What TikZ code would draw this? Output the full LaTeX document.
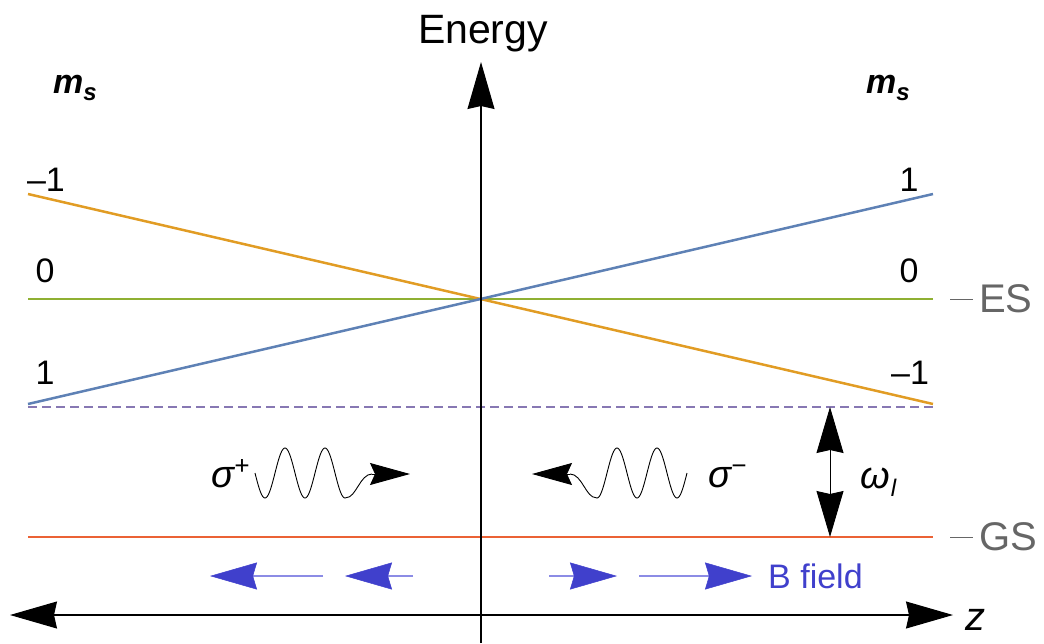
\documentclass[tikz,border=0pt]{standalone}
\usepackage{fontspec}
\setmainfont{Liberation Sans}
\usetikzlibrary{arrows.meta}
\definecolor{mblue}{rgb}{0.368417,0.506779,0.709798}
\definecolor{morange}{rgb}{0.880722,0.611041,0.142051}
\definecolor{mgreen}{rgb}{0.560181,0.691569,0.194885}
\definecolor{mred}{rgb}{0.922526,0.385626,0.209179}
\definecolor{mpurple}{rgb}{0.528488,0.470624,0.701351}
\definecolor{bdark}{rgb}{0.25,0.25,0.8}
\definecolor{blight}{rgb}{0.55,0.55,0.9}
\definecolor{lgray}{gray}{0.4}
\tikzset{
  level/.style={line width=2.5pt},
  axis/.style={line width=1.1pt},
  bighead/.style={-{Stealth[length=47pt,width=27pt,inset=3pt]}},
  wavy/.style={line width=0.9pt},
  photonhead/.style={-{Stealth[length=40pt,width=22pt,inset=5pt]}},
  bline/.style={blight,line width=2pt},
  bhead/.style={-{Stealth[length=47pt,width=27pt,inset=4pt,line width=0.5pt,color=bdark,fill=bdark]}},
  lbl/.style={font=\fontsize{34}{40}\selectfont,inner sep=0pt,anchor=base},
  big/.style={font=\fontsize{40}{48}\selectfont,inner sep=0pt},
  tag/.style={lgray,line width=1pt},
}
\begin{document}
\begin{tikzpicture}[x=1pt,y=-1pt]
\useasboundingbox (0,0) rectangle (1044,643);
% coordinates
\coordinate (L1) at (28,194); \coordinate (R1) at (933,194);
\coordinate (L0) at (28,299); \coordinate (R0) at (933,299);
\coordinate (Lm) at (28,404); \coordinate (Rm) at (933,404);
\coordinate (Ld) at (28,407); \coordinate (Rd) at (933,407);
\coordinate (Lg) at (28,537); \coordinate (Rg) at (933,537);
\coordinate (vb) at (481,643); \coordinate (vt) at (481,62);
\coordinate (hl) at (10,615); \coordinate (hr) at (953,615);
\coordinate (hm) at (481,615);
\coordinate (wt) at (830,407); \coordinate (wb) at (830,537);
% levels
\draw[level,mgreen] (L0) -- (R0);
\draw[level,morange] (L1) -- (Rm);
\draw[level,mblue] (Lm) -- (R1);
\draw[level,mpurple,dash pattern=on 9pt off 5pt] (Ld) -- (Rd);
\draw[level,mred] (Lg) -- (Rg);
% axes
\draw[axis,bighead] (vb) -- (vt);
\draw[axis,bighead] (hm) -- (hr);
\draw[axis,bighead] (hm) -- (hl);
\node[big,anchor=base] (energy) at (483,43) {\fontsize{41}{48}\selectfont Energy};
\node[big,anchor=base west] (z) at (965,630) {\itshape z};
% omega arrow
\draw[line width=0.9pt,{Stealth[length=46pt,width=27pt,inset=3pt]}-{Stealth[length=46pt,width=27pt,inset=3pt]}] (wt) -- (wb);
\node[lbl,anchor=base west] (om) at (860,488) {\fontsize{38}{44}\selectfont\itshape ω\kern1pt\raisebox{-8pt}{\fontsize{24}{28}\selectfont l}};
% ES / GS tags
\coordinate (es1) at (950,299); \coordinate (es2) at (973,299);
\coordinate (gs1) at (950,537); \coordinate (gs2) at (973,537);
\draw[tag] (es1) -- (es2);
\draw[tag] (gs1) -- (gs2);
\node[big,lgray,anchor=west] (ES) at (979,299) {ES};
\node[big,lgray,anchor=west] (GS) at (979,537) {GS};
% m_s labels
\node[lbl] (msl) at (75,93) {\bfseries\itshape m\raisebox{-7pt}{\fontsize{24}{28}\selectfont s}};
\node[lbl] (msr) at (888,93) {\bfseries\itshape m\raisebox{-7pt}{\fontsize{24}{28}\selectfont s}};
\node[lbl] (l1) at (46,191) {–1};
\node[lbl] (l2) at (45,282) {0};
\node[lbl] (l3) at (45,384) {1};
\node[lbl] (r1) at (909,191) {1};
\node[lbl] (r2) at (909,282) {0};
\node[lbl] (r3) at (910,384) {–1};
% sigma+ photon
\node[lbl,anchor=base west] (sp) at (211,487) {\fontsize{38}{44}\selectfont\itshape σ\raisebox{13pt}{\fontsize{26}{30}\selectfont +}};
\coordinate (pa) at (372,474); \coordinate (pt) at (410,474);
\draw[wavy] plot[domain=255:346,samples=120] (\x,{473+25*sin(9*(\x-255))})
  .. controls (356,498) and (360,474) .. (pa);
\draw[wavy,photonhead] (pa) -- (pt);
% sigma- photon
\node[lbl,anchor=base west] (sm) at (708,487) {\fontsize{38}{44}\selectfont\itshape σ\raisebox{13pt}{\fontsize{26}{30}\selectfont −}};
\coordinate (ma) at (570,474); \coordinate (mt) at (532,474);
\draw[wavy] plot[domain=687:596,samples=120] (\x,{473+25*sin(9*(687-\x))})
  .. controls (586,498) and (582,474) .. (ma);
\draw[wavy,photonhead] (ma) -- (mt);
% B field arrows
\coordinate (b1s) at (323,576); \coordinate (b1e) at (210,576);
\coordinate (b2s) at (413,576); \coordinate (b2e) at (345,576);
\coordinate (b3s) at (549,576); \coordinate (b3e) at (617,576);
\coordinate (b4s) at (639,576); \coordinate (b4e) at (752,576);
\draw[bline,bhead] (b1s) -- (b1e);
\draw[bline,bhead] (b2s) -- (b2e);
\draw[bline,bhead] (b3s) -- (b3e);
\draw[bline,bhead] (b4s) -- (b4e);
\node[lbl,bdark,anchor=base west] (bf) at (768,588) {B field};
\end{tikzpicture}
\end{document}
